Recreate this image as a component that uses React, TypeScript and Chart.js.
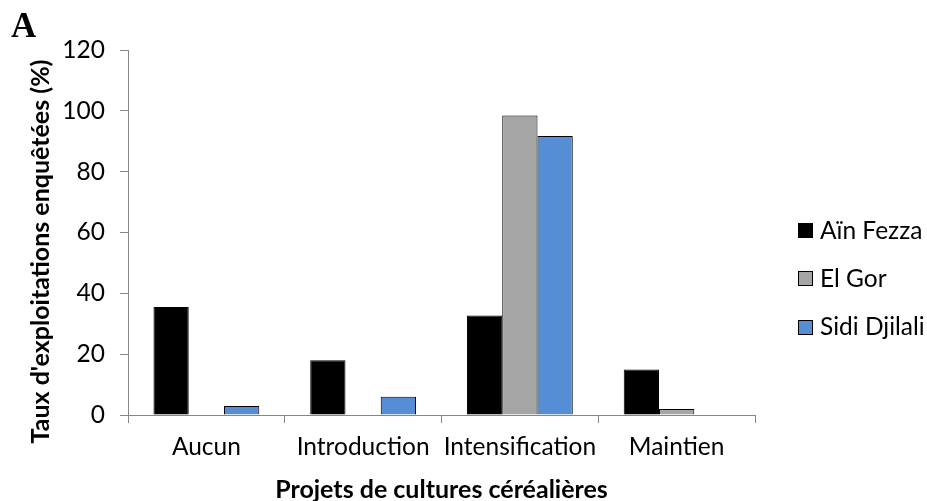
import React, { useEffect, useRef } from "react";
import { Chart, registerables } from "chart.js";

Chart.register(...registerables);

// ---- data ----
const categories = ["Aucun", "Introduction", "Intensification", "Maintien"];
const seriesNames = ["Aïn Fezza", "El Gor", "Sidi Djilali"];
const ainFezza = [35.5, 18, 32.7, 15];
const elGor = [0, 0, 98.5, 2];
const sidiDjilali = [3, 6, 91.7, 0];
const seriesColors = ["#000000", "#A5A5A5", "#558ED5"];
const yMin = 0;
const yMax = 120;
const yStep = 20;
const xTitle = "Projets de cultures céréalières";
const yTitle = "Taux d'exploitations enquêtées (%)";
const panelLabel = "A";

const AXIS_COLOR = "#868686";
const FONT = "Lato";
const TICK_SIZE = 24.5;
const TITLE_SIZE = 25;

const extrasPlugin = {
  id: "extras",
  afterDraw(chart: any) {
    const { ctx, chartArea } = chart;
    // panel label
    ctx.save();
    ctx.fillStyle = "#000";
    ctx.font = "bold 35px 'Liberation Serif'";
    ctx.textAlign = "left";
    ctx.textBaseline = "alphabetic";
    ctx.fillText(panelLabel, 11, 37);
    ctx.restore();

    // y axis title
    ctx.save();
    ctx.fillStyle = "#000";
    ctx.font = `bold ${TITLE_SIZE}px ${FONT}`;
    ctx.translate(49, (chartArea.top + chartArea.bottom) / 2 + 19);
    ctx.rotate(-Math.PI / 2);
    ctx.textAlign = "center";
    ctx.textBaseline = "alphabetic";
    ctx.fillText(yTitle, 0, 0);
    ctx.restore();

    // legend
    ctx.save();
    ctx.font = `${TICK_SIZE}px ${FONT}`;
    ctx.textAlign = "left";
    ctx.textBaseline = "alphabetic";
    const boxX = chartArea.right + 43;
    const firstY = 230.5;
    const gap = 48.3;
    chart.data.datasets.forEach((ds: any, i: number) => {
      const cy = firstY + i * gap;
      const top = Math.round(cy - 7.5);
      ctx.fillStyle = ds.backgroundColor;
      ctx.fillRect(boxX, top, 15, 15);
      ctx.strokeStyle = "#000";
      ctx.lineWidth = 1;
      ctx.strokeRect(boxX + 0.5, top + 0.5, 14, 14);
      ctx.fillStyle = "#000";
      ctx.fillText(ds.label, boxX + 22, cy + 8);
    });
    ctx.restore();
  },
};

export default function App() {
  const ref = useRef<HTMLCanvasElement | null>(null);

  useEffect(() => {
    if (!ref.current) return;
    const series = [ainFezza, elGor, sidiDjilali];
    const chart = new Chart(ref.current, {
      type: "bar",
      data: {
        labels: categories,
        datasets: series.map((values, i) => ({
          label: seriesNames[i],
          data: values,
          backgroundColor: seriesColors[i],
          borderColor: "#000000",
          borderWidth: 1,
          borderSkipped: "start",
          categoryPercentage: 0.675,
          barPercentage: 1,
        })),
      },
      options: {
        responsive: false,
        animation: false,
        devicePixelRatio: 1,
        layout: { padding: { left: 0, top: 50, right: 172, bottom: 0 } },
        plugins: {
          legend: { display: false },
          tooltip: { enabled: false },
          title: { display: false },
        },
        scales: {
          x: {
            afterFit: (scale: any) => {
              scale.height = 86;
            },
            grid: {
              offset: true,
              drawOnChartArea: false,
              drawTicks: true,
              tickLength: 8,
              color: AXIS_COLOR,
              lineWidth: 1,
            },
            border: { display: true, color: AXIS_COLOR, width: 1 },
            ticks: {
              color: "#000",
              padding: 9,
              font: { family: FONT, size: TICK_SIZE },
              maxRotation: 0,
              autoSkip: false,
            },
            title: {
              display: true,
              text: xTitle,
              color: "#000",
              font: { family: FONT, size: TITLE_SIZE, weight: "bold", lineHeight: 0.85 },
              padding: { top: 0, bottom: 0 },
            },
          },
          y: {
            min: yMin,
            max: yMax,
            afterFit: (scale: any) => {
              scale.width = 128;
            },
            grid: {
              drawOnChartArea: false,
              drawTicks: true,
              tickLength: 8,
              color: AXIS_COLOR,
              lineWidth: 1,
            },
            border: { display: true, color: AXIS_COLOR, width: 1 },
            ticks: {
              stepSize: yStep,
              color: "#000",
              padding: 15,
              font: { family: FONT, size: TICK_SIZE },
            },
          },
        },
      },
      plugins: [extrasPlugin],
    });
    return () => chart.destroy();
  }, []);

  return (
    <div style={{ position: "absolute", left: 0, top: 0, width: 927, height: 501, background: "#fff" }}>
      <canvas ref={ref} width={927} height={501} />
    </div>
  );
}
